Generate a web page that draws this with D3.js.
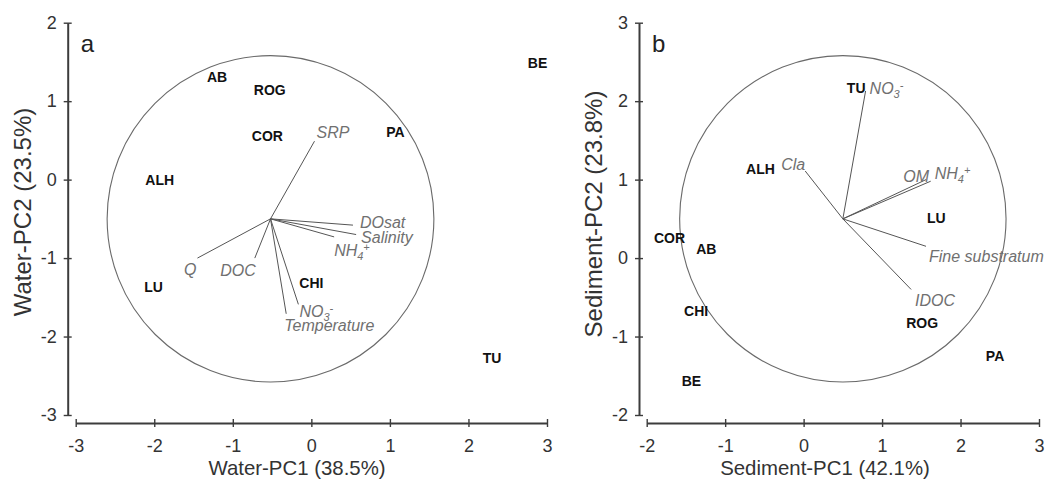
<!DOCTYPE html>
<html>
<head>
<meta charset="utf-8">
<script src="https://cdn.jsdelivr.net/npm/d3@7"></script>
<style>
  html, body { margin: 0; padding: 0; background: #fff; }
  svg { display: block; }
  text { font-family: "Liberation Sans", Arial, Helvetica, sans-serif; }
</style>
</head>
<body>
<svg id="chart" width="1047" height="482"></svg>
<script>
// ---- Water PCA (panel a) ----
const waterSites = ["AB", "ROG", "COR", "PA", "ALH", "LU", "CHI", "BE", "TU"];
const waterSiteX = [-1.2, -0.53, -0.56, 1.07, -1.93, -2.01, 0.0, 2.88, 2.3];
const waterSiteY = [1.31, 1.14, 0.56, 0.6, -0.01, -1.37, -1.32, 1.49, -2.27];
const waterVars = ["SRP", "DOsat", "Salinity", "NH4+", "NO3-", "Temperature", "Q", "DOC"];
const waterVarX = [0.04, 0.53, 0.57, 0.29, -0.165, -0.32, -1.45, -0.72];
const waterVarY = [0.49, -0.58, -0.70, -0.73, -1.59, -1.71, -1.0, -1.0];
const waterCenter = [-0.52, -0.5];
const waterXTicks = [-3, -2, -1, 0, 1, 2, 3];
const waterYTicks = [-3, -2, -1, 0, 1, 2];

// ---- Sediment PCA (panel b) ----
const sedSites = ["ALH", "COR", "AB", "CHI", "BE", "TU", "LU", "ROG", "PA"];
const sedSiteX = [-0.55, -1.71, -1.24, -1.37, -1.43, 0.67, 1.69, 1.51, 2.44];
const sedSiteY = [1.14, 0.25, 0.12, -0.68, -1.57, 2.17, 0.515, -0.83, -1.25];
const sedVars = ["Cla", "NO3-", "OM", "NH4+", "Fine substratum", "IDOC"];
const sedVarX = [0.02, 0.79, 1.56, 1.62, 1.56, 1.37];
const sedVarY = [1.11, 2.13, 1.0, 0.98, 0.15, -0.40];
const sedCenter = [0.5, 0.5];
const sedXTicks = [-2, -1, 0, 1, 2, 3];
const sedYTicks = [-2, -1, 0, 1, 2, 3];

const circleRadius = 2.08;

// label placement next to each loading vector end: [anchor, dx, dy]
const waterLabelPos = [["start", 2, -9], ["start", 7, -3], ["start", 5, 3], ["start", 0, 14],
                       ["start", 1, 7], ["start", -2, 12], ["end", -1, 11], ["end", 1, 12]];
const sedLabelPos = [["end", 0, -7], ["start", 4, -3], ["end", 3, -3], ["start", 4, -8],
                     ["start", 3, 10], ["start", 4, 11]];

const svg = d3.select("#chart");

function writeChem(sel, s) {
  const m = s.match(/^([A-Z]+)(\d)([+-])$/);
  if (!m) { sel.text(s); return; }
  sel.append("tspan").text(m[1]);
  sel.append("tspan").attr("dy", 4).attr("font-size", 11).text(m[2]);
  sel.append("tspan").attr("dy", -9).attr("font-size", 11).text(m[3]);
}

function panel(cfg) {
  const g = svg.append("g");
  const x = d3.scaleLinear().domain(cfg.xDomain).range(cfg.xRange);
  const y = d3.scaleLinear().domain(cfg.yDomain).range(cfg.yRange);

  // axes (detached, ticks crossing the line)
  const yAxis = d3.axisLeft(y).tickValues(cfg.yTicks).tickFormat(d => String(d))
    .tickSize(4).tickSizeOuter(0).tickPadding(7);
  const xAxis = d3.axisBottom(x).tickValues(cfg.xTicks).tickFormat(d => String(d))
    .tickSize(4).tickSizeOuter(0).tickPadding(12);

  const ya = g.append("g").attr("transform", `translate(${cfg.yAxisX},0)`).call(yAxis);
  const xa = g.append("g").attr("transform", `translate(0,${cfg.xAxisY})`).call(xAxis);
  ya.selectAll(".tick line").attr("x1", 4);
  xa.selectAll(".tick line").attr("y1", -4);
  [ya, xa].forEach(a => {
    a.select(".domain").attr("stroke", "#3c3c3c").attr("stroke-width", 2);
    a.selectAll(".tick line").attr("stroke", "#3c3c3c").attr("stroke-width", 1.4);
    a.selectAll(".tick text").attr("font-size", 18).attr("fill", "#333")
      .attr("font-family", "Liberation Sans, Arial, sans-serif");
  });

  // axis titles
  g.append("text").attr("x", cfg.xTitleX).attr("y", 475).attr("text-anchor", "middle")
    .attr("font-size", 20.4).attr("fill", "#333").text(cfg.xTitle);
  g.append("text").attr("transform", `translate(${cfg.yTitleX},${cfg.yTitleY}) rotate(-90)`)
    .attr("text-anchor", "middle").attr("font-size", 24).attr("fill", "#333").text(cfg.yTitle);

  // panel letter
  g.append("text").attr("x", cfg.yAxisX + 13).attr("y", 52).attr("font-size", 24)
    .attr("fill", "#222").text(cfg.letter);

  // equilibrium circle
  g.append("ellipse")
    .attr("cx", x(cfg.center[0])).attr("cy", y(cfg.center[1]))
    .attr("rx", x(cfg.center[0] + circleRadius) - x(cfg.center[0]))
    .attr("ry", y(cfg.center[1]) - y(cfg.center[1] + circleRadius))
    .attr("fill", "none").attr("stroke", "#6a6a6a").attr("stroke-width", 1.1);

  // loading vectors
  const vars = cfg.vars.map((name, i) => ({ name, vx: cfg.varX[i], vy: cfg.varY[i], pos: cfg.labelPos[i] }));
  g.selectAll("line.vec").data(vars).join("line").attr("class", "vec")
    .attr("x1", x(cfg.center[0])).attr("y1", y(cfg.center[1]))
    .attr("x2", d => x(d.vx)).attr("y2", d => y(d.vy))
    .attr("stroke", "#555").attr("stroke-width", 1);
  g.selectAll("text.vlab").data(vars).join("text").attr("class", "vlab")
    .attr("x", d => x(d.vx) + d.pos[1]).attr("y", d => y(d.vy) + d.pos[2])
    .attr("dy", "0.35em").attr("text-anchor", d => d.pos[0])
    .attr("font-size", 16).attr("font-style", "italic").attr("fill", "#707070")
    .each(function (d) { writeChem(d3.select(this), d.name); });

  // site scores
  const sites = cfg.sites.map((name, i) => ({ name, sx: cfg.siteX[i], sy: cfg.siteY[i] }));
  g.selectAll("text.site").data(sites).join("text").attr("class", "site")
    .attr("x", d => x(d.sx)).attr("y", d => y(d.sy)).attr("dy", "0.35em")
    .attr("text-anchor", "middle").attr("font-size", 14).attr("font-weight", "bold")
    .attr("fill", "#111").text(d => d.name);
}

panel({
  xDomain: [-3, 3], xRange: [75.7, 547], yDomain: [-3, 2], yRange: [415, 22.7],
  xTicks: waterXTicks, yTicks: waterYTicks, yAxisX: 67.7, xAxisY: 423,
  xTitle: "Water-PC1 (38.5%)", yTitle: "Water-PC2 (23.5%)",
  xTitleX: 297, yTitleX: 31, yTitleY: 212, letter: "a",
  center: waterCenter, vars: waterVars, varX: waterVarX, varY: waterVarY, labelPos: waterLabelPos,
  sites: waterSites, siteX: waterSiteX, siteY: waterSiteY
});

panel({
  xDomain: [-2, 3], xRange: [646.7, 1039], yDomain: [-2, 3], yRange: [415, 22.7],
  xTicks: sedXTicks, yTicks: sedYTicks, yAxisX: 639, xAxisY: 423,
  xTitle: "Sediment-PC1 (42.1%)", yTitle: "Sediment-PC2 (23.8%)",
  xTitleX: 825, yTitleX: 602, yTitleY: 214, letter: "b",
  center: sedCenter, vars: sedVars, varX: sedVarX, varY: sedVarY, labelPos: sedLabelPos,
  sites: sedSites, siteX: sedSiteX, siteY: sedSiteY
});
</script>
</body>
</html>
